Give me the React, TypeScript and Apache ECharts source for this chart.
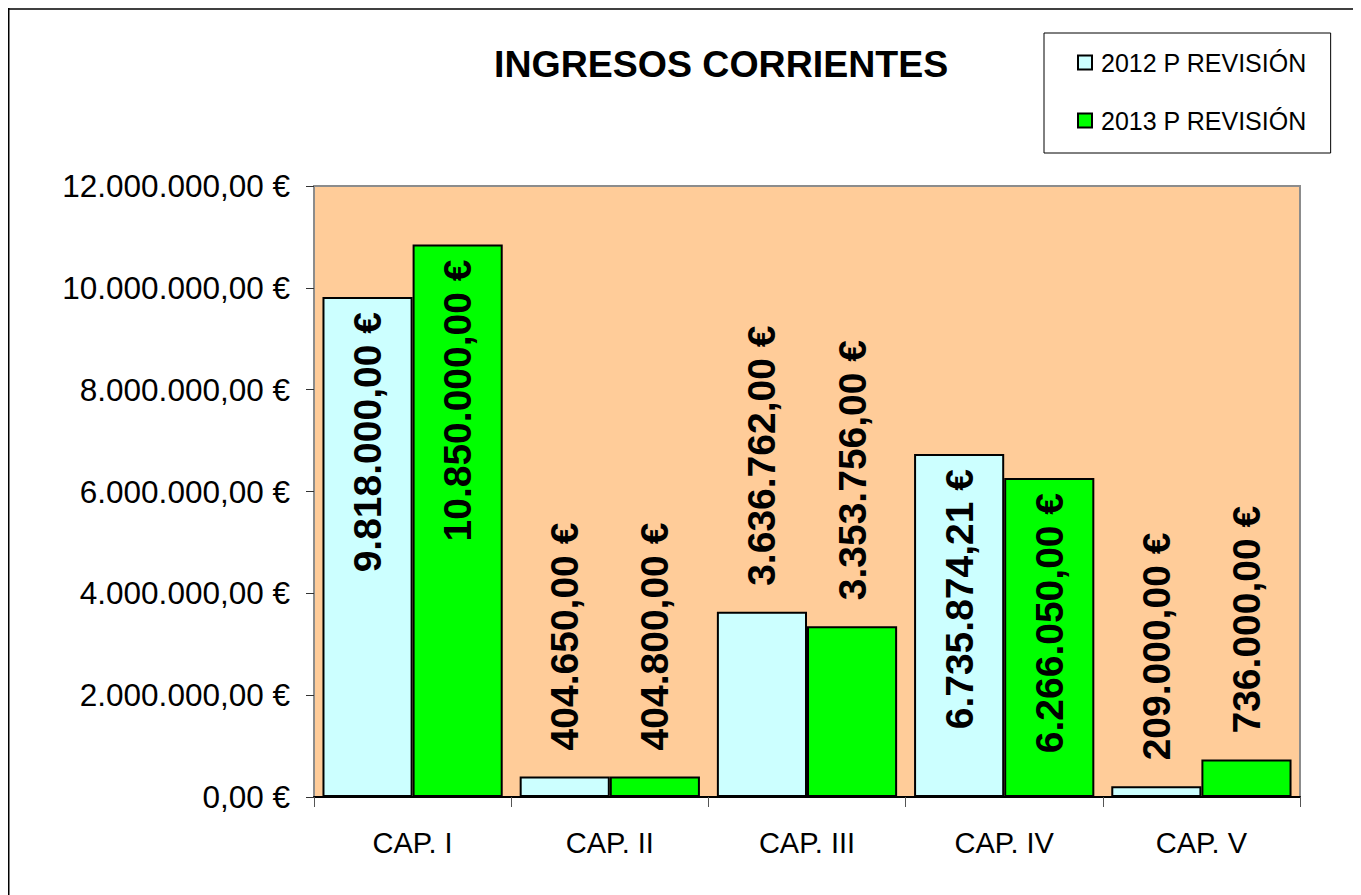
import React, { useEffect, useRef } from "react";
import * as echarts from "echarts";

const categories = ["CAP. I", "CAP. II", "CAP. III", "CAP. IV", "CAP. V"];
const prevision2012 = [9818000, 404650, 3636762, 6735874.21, 209000];
const prevision2013 = [10850000, 404800, 3353756, 6266050, 736000];
const seriesNames = ["2012 P REVISIÓN", "2013 P REVISIÓN"];
const titleText = "INGRESOS CORRIENTES";
const yMin = 0;
const yMax = 12000000;
const yInterval = 2000000;

const FONT = "'Liberation Sans', Arial, sans-serif";

function euro(v: number): string {
  const [intPart, dec] = Math.abs(v).toFixed(2).split(".");
  const withDots = intPart.replace(/\B(?=(\d{3})+(?!\d))/g, ".");
  return (v < 0 ? "-" : "") + withDots + "," + dec + " €";
}

function buildData(values: number[]) {
  return values.map((v) => {
    const inside = v > 5000000;
    return {
      value: v,
      label: inside
        ? { position: "insideTop", distance: 15, align: "right" }
        : { position: "top", distance: 26, align: "left" },
    };
  });
}

export default function App() {
  const ref = useRef<HTMLDivElement>(null);
  useEffect(() => {
    if (!ref.current) return;
    const chart = echarts.init(ref.current, undefined, { renderer: "svg" });
    const labelBase = {
      show: true,
      rotate: 90,
      verticalAlign: "middle",
      formatter: (p: any) => euro(p.value),
      color: "#000",
      fontFamily: FONT,
      fontWeight: "bold",
      fontSize: 39,
    };
    chart.setOption({
      animation: false,
      backgroundColor: "#ffffff",
      textStyle: { fontFamily: FONT },
      title: {
        text: titleText,
        left: 486,
        top: 37,
        padding: 0,
        textStyle: { fontFamily: FONT, fontWeight: "bold", fontSize: 37.5, color: "#000" },
      },
      legend: {
        orient: "vertical",
        left: 1036,
        top: 25,
        padding: [17, 24, 20, 33],
        itemGap: 33,
        itemWidth: 14,
        itemHeight: 14,
        icon: "rect",
        backgroundColor: "#ffffff",
        borderColor: "#000",
        borderWidth: 1,
        borderRadius: 0,
        textStyle: { fontFamily: FONT, fontSize: 25, color: "#000", padding: [0, 0, 0, 4] },
        itemStyle: { borderColor: "#000", borderWidth: 2 },
        data: seriesNames,
      },
      grid: {
        left: 306,
        right: 61,
        top: 178,
        bottom: 98,
        show: true,
        backgroundColor: "#FFCC99",
        borderColor: "#8c8c8c",
        borderWidth: 2,
        containLabel: false,
      },
      xAxis: {
        type: "category",
        data: categories,
        boundaryGap: true,
        axisLine: { show: true, lineStyle: { color: "#000", width: 2 } },
        axisTick: { show: true, length: 10, alignWithLabel: false, lineStyle: { color: "#555", width: 1 } },
        axisLabel: { fontFamily: FONT, fontSize: 29, color: "#000", margin: 31 },
        splitLine: { show: false },
      },
      yAxis: {
        type: "value",
        min: yMin,
        max: yMax,
        interval: yInterval,
        axisLine: { show: true, lineStyle: { color: "#8c8c8c", width: 2 } },
        axisTick: { show: true, length: 8, inside: false, lineStyle: { color: "#333", width: 1 } },
        axisLabel: {
          fontFamily: FONT,
          fontSize: 31.5,
          color: "#000",
          margin: 24,
          formatter: (v: number) => euro(v),
        },
        splitLine: { show: false },
      },
      series: [
        {
          name: seriesNames[0],
          type: "bar",
          data: buildData(prevision2012),
          barGap: "0%",
          barCategoryGap: "8.6%",
          itemStyle: { color: "#CCFFFF", borderColor: "#000", borderWidth: 2 },
          label: labelBase,
        },
        {
          name: seriesNames[1],
          type: "bar",
          data: buildData(prevision2013),
          barGap: "0%",
          barCategoryGap: "8.6%",
          itemStyle: { color: "#00FF00", borderColor: "#000", borderWidth: 2 },
          label: labelBase,
        },
      ],
      graphic: [
        { type: "line", shape: { x1: 0, y1: 1, x2: 1353, y2: 1 }, style: { stroke: "#000", lineWidth: 1.5 } },
        { type: "line", shape: { x1: 0.5, y1: 0, x2: 0.5, y2: 887 }, style: { stroke: "#000", lineWidth: 2 } },
      ],
    });
    return () => chart.dispose();
  }, []);
  return <div ref={ref} style={{ width: 1353, height: 887 }} />;
}
